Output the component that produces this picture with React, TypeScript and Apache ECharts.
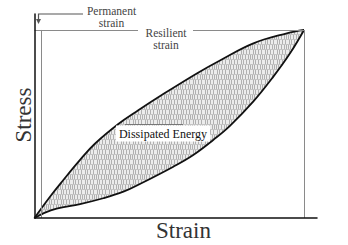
import React, { useEffect, useRef } from "react";
import * as echarts from "echarts";

// Loading (upper) branch of the hysteresis loop: strain vs stress (normalised)
const loadStrain = [0, 0.0575, 0.107, 0.169, 0.224, 0.311, 0.385, 0.472, 0.602, 0.688, 0.812, 0.936, 1];
const loadStress = [0, 0.113, 0.202, 0.309, 0.395, 0.5, 0.573, 0.654, 0.769, 0.838, 0.929, 0.982, 1];

// Unloading (lower) branch
const unloadStrain = [0, 0.033, 0.082, 0.169, 0.255, 0.33, 0.391, 0.515, 0.589, 0.663, 0.725, 0.812, 0.886, 0.948, 1];
const unloadStress = [0, 0.025, 0.05, 0.074, 0.105, 0.14, 0.181, 0.273, 0.335, 0.415, 0.49, 0.62, 0.752, 0.876, 1];

const permanentStrain = 0.024;
const peakStrain = 1;
const peakStress = 1;

const xLabel = "Strain";
const yLabel = "Stress";
const areaLabel = "Dissipated Energy";
const permanentLines = ["Permanent", "strain"];
const resilientLines = ["Resilient", "strain"];

const SERIF = "'Liberation Serif', 'DejaVu Serif', serif";

function makePattern(): HTMLCanvasElement {
  const c = document.createElement("canvas");
  c.width = 12;
  c.height = 10;
  const ctx = c.getContext("2d")!;
  ctx.fillStyle = "#ececec";
  ctx.fillRect(0, 0, 12, 10);
  ctx.fillStyle = "#b0b0b0";
  [1, 3, 6, 9].forEach((x) => ctx.fillRect(x, 0, 1, 5));
  [0, 2, 5, 8, 10].forEach((x) => ctx.fillRect(x, 5, 1, 5));
  ctx.fillStyle = "#c4c4c4";
  ctx.fillRect(0, 4, 12, 1);
  ctx.fillRect(0, 9, 12, 1);
  return c;
}

export default function App() {
  const ref = useRef<HTMLDivElement>(null);

  useEffect(() => {
    if (!ref.current) return;
    const chart = echarts.init(ref.current, null, { renderer: "svg" });
    const pattern = makePattern();
    const loadData = loadStrain.map((x, i) => [x, loadStress[i]]);
    const unloadData = unloadStrain.map((x, i) => [x, unloadStress[i]]);

    const smallText = (text: string, x: number, y: number, size: number) => ({
      type: "text",
      z: 22,
      x,
      y,
      style: {
        text,
        font: `${size}px ${SERIF}`,
        fill: "#444",
        align: "center",
        verticalAlign: "middle",
      },
    });

    chart.setOption({
      animation: false,
      backgroundColor: "#ffffff",
      grid: { left: 34.5, right: 31, top: 14, bottom: 27, containLabel: false },
      xAxis: {
        type: "value",
        min: 0,
        max: 1.048,
        z: 10,
        axisLine: { show: true, onZero: false, lineStyle: { color: "#111", width: 1.5 } },
        axisTick: { show: false },
        axisLabel: { show: false },
        splitLine: { show: false },
      },
      yAxis: {
        type: "value",
        min: 0,
        max: 1.085,
        z: 10,
        axisLine: { show: true, onZero: false, lineStyle: { color: "#111", width: 1.5 } },
        axisTick: { show: false },
        axisLabel: { show: false },
        splitLine: { show: false },
      },
      series: [
        {
          type: "line",
          name: "Loading",
          data: loadData,
          smooth: 0.4,
          symbol: "none",
          z: 3,
          lineStyle: { color: "#111", width: 1.8 },
          areaStyle: { color: { image: pattern, repeat: "repeat" }, opacity: 1 },
        },
        {
          type: "line",
          name: "Unloading",
          data: unloadData,
          smooth: 0.4,
          symbol: "none",
          z: 4,
          lineStyle: { color: "#111", width: 1.8 },
          areaStyle: { color: "#ffffff", opacity: 1 },
          markLine: {
            silent: true,
            symbol: "none",
            label: { show: false },
            lineStyle: { color: "#8a8a8a", width: 1, type: "solid" },
            data: [
              [{ coord: [permanentStrain, 0] }, { coord: [permanentStrain, peakStress] }],
              [{ coord: [peakStrain, 0] }, { coord: [peakStrain, peakStress] }],
              [{ coord: [0, peakStress] }, { coord: [peakStrain, peakStress] }],
            ],
          },
        },
      ],
      graphic: [
        {
          type: "polyline",
          z: 20,
          shape: { points: [[83, 14], [38.5, 14], [38.5, 20]] },
          style: { stroke: "#555", lineWidth: 1.2, fill: null },
        },
        {
          type: "polygon",
          z: 20,
          shape: { points: [[36, 19], [41, 19], [38.5, 24]] },
          style: { fill: "#555" },
        },
        smallText(permanentLines[0], 111.5, 10.5, 11.5),
        smallText(permanentLines[1], 111.5, 22.5, 11.5),
        {
          type: "rect",
          z: 21,
          shape: { x: 138, y: 27, width: 55, height: 23 },
          style: { fill: "#ffffff" },
        },
        smallText(resilientLines[0], 166, 32.5, 11.5),
        smallText(resilientLines[1], 166, 44.5, 11.5),
        {
          type: "line",
          z: 20,
          shape: { x1: 125, y1: 124.5, x2: 183, y2: 124.5 },
          style: { stroke: "#777", lineWidth: 1 },
        },
        {
          type: "text",
          z: 20,
          x: 163,
          y: 133.5,
          style: {
            text: areaLabel,
            font: `12px ${SERIF}`,
            fill: "#111",
            align: "center",
            verticalAlign: "middle",
            backgroundColor: "#ffffff",
            padding: [2, 3],
          },
        },
        {
          type: "text",
          z: 20,
          x: 183.5,
          y: 230,
          style: {
            text: xLabel,
            font: `23px ${SERIF}`,
            fill: "#333",
            align: "center",
            verticalAlign: "middle",
          },
        },
        {
          type: "text",
          z: 20,
          x: 23,
          y: 115,
          rotation: Math.PI / 2,
          style: {
            text: yLabel,
            font: `23px ${SERIF}`,
            fill: "#333",
            align: "center",
            verticalAlign: "middle",
          },
        },
      ],
    });

    return () => chart.dispose();
  }, []);

  return <div ref={ref} style={{ width: 348, height: 245, position: "absolute", left: 0, top: 0 }} />;
}
